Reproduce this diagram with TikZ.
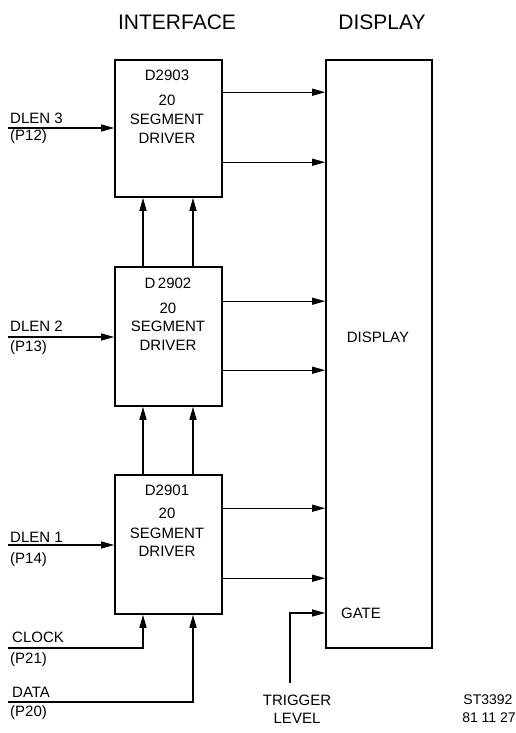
\documentclass[tikz,border=0pt]{standalone}
\usepackage{fontspec}
\setmainfont{Liberation Sans}
\usetikzlibrary{arrows.meta}
\tikzset{
  box/.style={draw, line width=1.6pt, minimum width=107pt, inner sep=0pt},
  txt/.style={font=\fontsize{15}{17}\selectfont, inner sep=0pt},
  ttl/.style={font=\fontsize{21}{24}\selectfont, inner sep=0pt},
  wire/.style={line width=1.2pt},
  arr/.style={wire, -{Triangle[length=13pt,width=7pt]}},
}
\begin{document}
\begin{tikzpicture}[x=1pt,y=-1pt]
\useasboundingbox (0,0) rectangle (516,733);
% titles
\node[ttl] (tif) at (177,22) {INTERFACE};
\node[ttl] (tdp) at (382,22) {DISPLAY};
% boxes
\node[box, minimum height=137pt] (d3) at (168.5,128.5) {};
\node[box, minimum height=139pt] (d2) at (168.5,336.5) {};
\node[box, minimum height=139pt] (d1) at (168.5,544.5) {};
\node[box, minimum width=106pt, minimum height=588pt] (disp) at (379,354) {};
% box texts
\node[txt] (t3a) at (167,75) {D2903};
\node[txt] (t3b) at (167,100) {20};
\node[txt] (t3c) at (167,119) {SEGMENT};
\node[txt] (t3d) at (167,138) {DRIVER};
\node[txt] (t2a) at (168,283) {D\,2902};
\node[txt] (t2b) at (168,308) {20};
\node[txt] (t2c) at (168,326) {SEGMENT};
\node[txt] (t2d) at (168,345) {DRIVER};
\node[txt] (t1a) at (167,490) {D2901};
\node[txt] (t1b) at (167,513) {20};
\node[txt] (t1c) at (167,533) {SEGMENT};
\node[txt] (t1d) at (167,551) {DRIVER};
\node[txt] (tdisp) at (378,337) {DISPLAY};
\node[txt] (tgate) at (361,613) {GATE};
% left labels
\node[txt, anchor=west] (l3a) at (10,118) {DLEN 3};
\node[txt, anchor=west] (l3b) at (10,137) {(P12)};
\node[txt, anchor=west] (l2a) at (10,326) {DLEN 2};
\node[txt, anchor=west] (l2b) at (10,348) {(P13)};
\node[txt, anchor=west] (l1a) at (10,537) {DLEN 1};
\node[txt, anchor=west] (l1b) at (10,560) {(P14)};
\node[txt, anchor=west] (lca) at (12,637) {CLOCK};
\node[txt, anchor=west] (lcb) at (10,660) {(P21)};
\node[txt, anchor=west] (lda) at (12,692) {DATA};
\node[txt, anchor=west] (ldb) at (10,713) {(P20)};
\node[txt] (trg1) at (297,700) {TRIGGER};
\node[txt] (trg2) at (297,718) {LEVEL};
\node[txt, font=\fontsize{14}{16}\selectfont] (st1) at (488,700) {ST3392};
\node[txt, font=\fontsize{14}{16}\selectfont] (st2) at (489,718) {81 11 27};
% free ends
\coordinate (i3) at (8,128);
\coordinate (i2) at (8,337);
\coordinate (i1) at (8,545);
\coordinate (ck) at (8,648);
\coordinate (dt) at (8,702);
\coordinate (tg) at (290,683);
% inputs
\draw[arr] (i3) -- (i3 -| d3.west);
\draw[arr] (i2) -- (i2 -| d2.west);
\draw[arr] (i1) -- (i1 -| d1.west);
% outputs
\coordinate (o3a) at ([yshift=-33pt]d3.north east);
\coordinate (o3b) at ([yshift=-103pt]d3.north east);
\coordinate (o2a) at ([yshift=-35pt]d2.north east);
\coordinate (o2b) at ([yshift=-104pt]d2.north east);
\coordinate (o1a) at ([yshift=-34pt]d1.north east);
\coordinate (o1b) at ([yshift=-104pt]d1.north east);
\foreach \c in {o3a,o3b,o2a,o2b,o1a,o1b}
  \draw[arr] (\c) -- (\c -| disp.west);
% vertical links
\coordinate (v2a) at ([xshift=-25.5pt]d2.north);
\coordinate (v2b) at ([xshift=24.5pt]d2.north);
\coordinate (v1a) at ([xshift=-25.5pt]d1.north);
\coordinate (v1b) at ([xshift=24.5pt]d1.north);
\draw[arr] (v2a) -- (v2a |- d3.south);
\draw[arr] (v2b) -- (v2b |- d3.south);
\draw[arr] (v1a) -- (v1a |- d2.south);
\draw[arr] (v1b) -- (v1b |- d2.south);
% clock, data
\draw[arr] (ck) -| (v1a |- d1.south);
\draw[arr] (dt) -| (v1b |- d1.south);
% trigger
\draw[arr] (tg) |- (tgate.west -| disp.west);
\end{tikzpicture}
\end{document}
